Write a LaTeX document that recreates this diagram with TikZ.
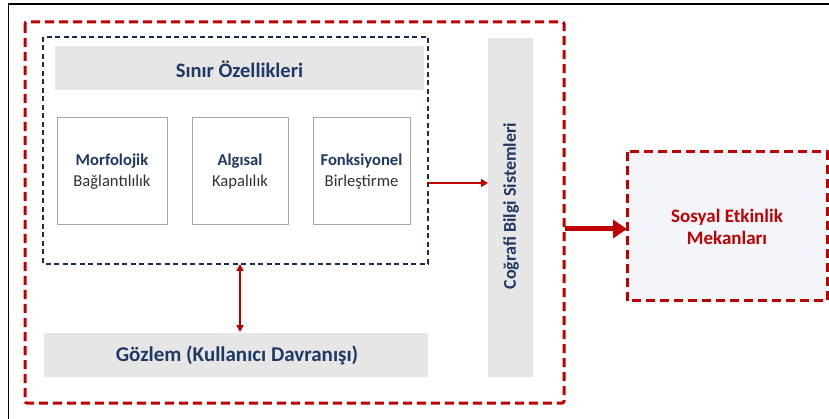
\documentclass[tikz,border=0pt]{standalone}
\usepackage{fontspec}
\setmainfont{Carlito}
\usetikzlibrary{arrows.meta}
\definecolor{navy}{HTML}{1F3864}
\definecolor{dred}{HTML}{C00000}
\definecolor{lgray}{HTML}{E7E6E6}
\definecolor{lfill}{HTML}{F3F5F9}
\begin{document}
\begin{tikzpicture}[x=1pt,y=-1pt,
  graybar/.style={fill=lgray,draw=none},
  subbox/.style={draw=black!35,line width=0.9pt,fill=white},
  reddash/.style={draw=dred,line width=3pt,dash pattern=on 9pt off 5pt},
  navytext/.style={text=navy,font=\bfseries},
  subtext/.style={align=center,font=\fontsize{16.6}{20.5}\selectfont,text=black!80},
]
\useasboundingbox (0,0) rectangle (829,419);
\fill[white] (0,0) rectangle (829,419);
% black frame
\draw[line width=1.5pt] (8.5,419) -- (8.5,4) -- (829,4);
% outer red dashed
\draw[reddash,rounded corners=2pt] (25,22) rectangle (564,403);
% inner dark dashed
\draw[draw=navy!80!black,line width=1.1pt,dash pattern=on 5pt off 3.5pt] (43,37) rectangle (428,264);
\node[draw=none,inner sep=0] (dash) at (235.5,150.5) [minimum width=385pt,minimum height=227pt] {};
% title bar
\fill[graybar] (55,46) rectangle (424,90);
\node[navytext,font=\bfseries\fontsize{20.5}{24}\selectfont] (title) at (239.5,69) {Sınır Özellikleri};
% sub boxes
\draw[subbox] (57,117) rectangle (167,224);
\draw[subbox] (192,117) rectangle (288,224);
\draw[subbox] (313,117) rectangle (410,224);
\node[subtext] (m) at (112,171.5) {\textcolor{navy}{\bfseries Morfolojik}\\Bağlantılılık};
\node[subtext] (a) at (240,171.5) {\textcolor{navy}{\bfseries Algısal}\\Kapalılık};
\node[subtext] (f) at (361.5,171.5) {\textcolor{navy}{\bfseries Fonksiyonel}\\Birleştirme};
% GIS bar
\fill[graybar] (488,38) rectangle (533,377);
\node[draw=none,inner sep=0,minimum width=45pt,minimum height=339pt] (gis) at (510.5,207.5) {};
\node[navytext,font=\bfseries\fontsize{18}{20}\selectfont,rotate=90] (gist) at (511,206) {Coğrafi Bilgi Sistemleri};
% Gozlem bar
\fill[graybar] (44,333) rectangle (428,377);
\node[draw=none,inner sep=0,minimum width=384pt,minimum height=44pt] (goz) at (236,355) {};
\node[navytext,font=\bfseries\fontsize{21}{24}\selectfont] (gozt) at (237,355) {Gözlem (Kullanıcı Davranışı)};
% output box
\draw[reddash,fill=lfill] (627,152) rectangle (827,301);
\node[draw=none,inner sep=0,minimum width=200pt,minimum height=149pt] (out) at (727,226.5) {};
\node[align=center,text=dred,font=\bfseries\fontsize{19}{22}\selectfont] (outt) at (727,227) {Sosyal Etkinlik\\Mekanları};
% arrows
\coordinate (d1) at (428,183);
\coordinate (g1) at (488,183);
\draw[dred,line width=2pt,-{Triangle[length=7pt,width=8pt]}] (d1) -- (g1);
\coordinate (v1) at (240,264);
\coordinate (v2) at (240,332);
\draw[dred,line width=2pt,{Triangle[length=7pt,width=7pt]}-{Triangle[length=7pt,width=7pt]}] (v1) -- (v2);
\coordinate (r1) at (565,229);
\coordinate (r2) at (627,229);
\draw[dred,line width=5pt,-{Triangle[length=14pt,width=18pt]}] (r1) -- (r2);
\end{tikzpicture}
\end{document}
